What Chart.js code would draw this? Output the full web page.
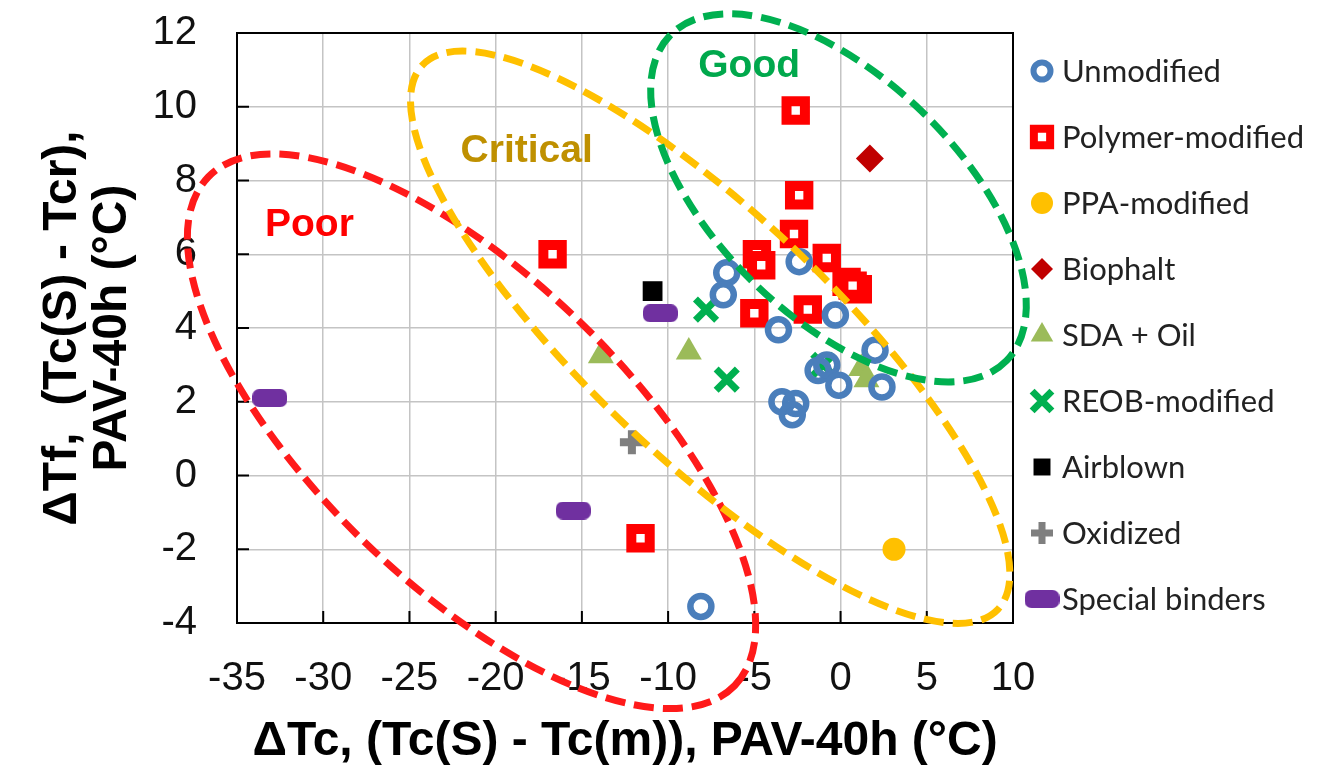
<!DOCTYPE html>
<html>
<head>
<meta charset="utf-8">
<script src="https://cdn.jsdelivr.net/npm/chart.js@4.4.1/dist/chart.umd.min.js"></script>
<style>
  html, body { margin: 0; padding: 0; background: #fff; }
</style>
</head>
<body>
<canvas id="binderChart" width="1317" height="783"></canvas>
<script>
// axis ranges
const xMin = -35, xMax = 10, xStep = 5;
const yMin = -4, yMax = 12, yStep = 2;

// series: [ΔTc, ΔTf]
const seriesNames = ['Unmodified', 'Polymer-modified', 'PPA-modified', 'Biophalt', 'SDA + Oil',
    'REOB-modified', 'Airblown', 'Oxidized', 'Special binders'];
const unmodified = [[-6.6, 5.5], [-6.8, 4.9], [-2.4, 5.8], [-3.6, 3.95], [-0.3, 4.35], [2.0, 3.4],
    [-1.3, 2.85], [-0.8, 3.0], [-0.1, 2.45], [2.4, 2.4], [-3.4, 2.0], [-2.6, 1.95], [-2.8, 1.65], [-8.1, -3.55]];
const polymerModified = [[-2.6, 9.9], [-2.4, 7.6], [-2.7, 6.55], [-4.85, 6.0], [-4.6, 5.7], [-0.8, 5.9],
    [0.35, 5.25], [1.0, 5.05], [0.7, 5.15], [-5.0, 4.4], [-1.9, 4.5], [-16.7, 6.0], [-11.6, -1.7]];
const ppaModified = [[3.1, -2.0]];
const biophalt = [[1.7, 8.6]];
const sdaOil = [[-13.9, 3.25], [-8.8, 3.35], [1.2, 2.9], [1.5, 2.6]];
const reobModified = [[-7.8, 4.5], [-6.6, 2.6], [-1.0, 3.0]];
const airblown = [[-10.9, 5.0]];
const oxidized = [[-12.1, 0.9]];
const specialBinders = [[-33.1, 2.1], [-15.5, -0.95], [-10.45, 4.4]];

// rating zones (centre in data units)
const zoneNames = ['Poor', 'Critical', 'Good'];
const zoneCentreX = [-21.4, -7.56, -0.12];
const zoneCentreY = [1.2, 3.75, 7.53];
const zoneLabelX = [-30.8, -18.2, -5.3];
const zoneLabelY = [6.8, 8.8, 11.1];

// zone geometry / colours (px)
const zoneStyle = [
    {a: 366, b: 154, angle: 44, color: '#ff1a1a', text: '#ff0000'},
    {a: 396, b: 122, angle: 43.4, color: '#ffc000', text: '#bf9000'},
    {a: 234, b: 120, angle: 44, color: '#00b050', text: '#00a84c'}
];

function pill(w, h, color) {
    const c = document.createElement('canvas');
    c.width = w; c.height = h;
    const g = c.getContext('2d');
    g.fillStyle = color;
    g.beginPath();
    g.roundRect(0, 0, w, h, h / 2.6);
    g.fill();
    return c;
}

function toPoints(arr) {
    return arr.map(p => ({x: p[0], y: p[1]}));
}

const specialPill = pill(35, 18, '#7030a0');

const styles = [
    {style: 'circle', r: 10.5, bw: 6.5, border: '#4a7ebb', bg: 'rgba(0,0,0,0)', lr: 8.5, lbw: 6},
    {style: 'rect', r: 13, bw: 10, border: '#ff0000', bg: '#ffffff', lr: 11.5, lbw: 8},
    {style: 'circle', r: 11.5, bw: 0, border: '#ffc000', bg: '#ffc000', lr: 11, lbw: 0},
    {style: 'rectRot', r: 14, bw: 0, border: '#c00000', bg: '#c00000', lr: 11, lbw: 0},
    {style: 'triangle', r: 15, bw: 0, border: '#9bbb59', bg: '#9bbb59', lr: 13, lbw: 0},
    {style: 'crossRot', r: 15, bw: 7, border: '#00b050', bg: '#00b050', lr: 14, lbw: 7},
    {style: 'rect', r: 14, bw: 0, border: '#000000', bg: '#000000', lr: 12, lbw: 0},
    {style: 'cross', r: 12, bw: 8, border: '#7f7f7f', bg: '#7f7f7f', lr: 11, lbw: 7},
    {style: specialPill, r: 12, bw: 0, border: '#7030a0', bg: '#7030a0', lr: 12, lbw: 0}
];

const seriesData = [unmodified, polymerModified, ppaModified, biophalt, sdaOil,
    reobModified, airblown, oxidized, specialBinders];

const datasets = seriesData.map((d, i) => ({
    label: seriesNames[i],
    data: toPoints(d),
    pointStyle: styles[i].style,
    pointRadius: styles[i].r,
    pointHoverRadius: styles[i].r,
    pointBorderWidth: styles[i].bw,
    pointBorderColor: styles[i].border,
    pointBackgroundColor: styles[i].bg,
    clip: false
}));

const framePlugin = {
    id: 'frame',
    beforeDatasetsDraw(chart) {
        const {ctx, chartArea: a, scales: {x, y}} = chart;
        ctx.save();
        ctx.strokeStyle = '#000';
        ctx.lineWidth = 2;
        ctx.strokeRect(a.left, a.top, a.right - a.left, a.bottom - a.top);
        ctx.beginPath();
        y.ticks.forEach(t => {
            const py = y.getPixelForValue(t.value);
            ctx.moveTo(a.left, py);
            ctx.lineTo(a.left + 12, py);
        });
        x.ticks.forEach(t => {
            const px = x.getPixelForValue(t.value);
            ctx.moveTo(px, a.bottom);
            ctx.lineTo(px, a.bottom - 12);
        });
        ctx.stroke();
        ctx.restore();
    }
};

const zonePlugin = {
    id: 'zones',
    afterDatasetsDraw(chart) {
        const {ctx, scales: {x, y}} = chart;
        ctx.save();
        ctx.lineWidth = 7;
        ctx.setLineDash([20, 9]);
        zoneNames.forEach((name, i) => {
            const z = zoneStyle[i];
            ctx.beginPath();
            ctx.ellipse(x.getPixelForValue(zoneCentreX[i]), y.getPixelForValue(zoneCentreY[i]),
                z.a, z.b, z.angle * Math.PI / 180, 0, Math.PI * 2);
            ctx.strokeStyle = z.color;
            ctx.stroke();
        });
        ctx.setLineDash([]);
        ctx.font = 'bold 39px "Liberation Sans", Arial, sans-serif';
        ctx.textAlign = 'center';
        ctx.textBaseline = 'middle';
        zoneNames.forEach((name, i) => {
            ctx.fillStyle = zoneStyle[i].text;
            ctx.fillText(name, x.getPixelForValue(zoneLabelX[i]), y.getPixelForValue(zoneLabelY[i]));
        });
        ctx.restore();
    }
};

const legendPlugin = {
    id: 'sideLegend',
    afterDraw(chart) {
        const {ctx} = chart;
        const left = 1042, textX = 1062, top = 71, step = 66;
        ctx.save();
        chart.data.datasets.forEach((ds, i) => {
            const s = styles[i];
            const cy = top + i * step;
            ctx.fillStyle = s.bg;
            ctx.strokeStyle = s.border;
            ctx.lineWidth = s.lbw;
            Chart.helpers.drawPoint(ctx, {pointStyle: s.style, rotation: 0, radius: s.lr, borderWidth: s.lbw}, left, cy);
            ctx.fillStyle = '#222';
            ctx.font = '31px Lato, "Open Sans", sans-serif';
            ctx.textAlign = 'left';
            ctx.textBaseline = 'middle';
            ctx.fillText(ds.label, textX, cy + 1);
        });
        ctx.restore();
    }
};

const tickFont = {family: '"Liberation Sans", Arial, sans-serif', size: 40};
const titleFont = {family: '"Liberation Sans", Arial, sans-serif', size: 48, weight: 'bold'};

new Chart(document.getElementById('binderChart'), {
    type: 'scatter',
    data: {datasets: datasets},
    options: {
        responsive: false,
        animation: false,
        layout: {padding: {left: 0, top: 33, right: 304, bottom: 0}},
        plugins: {legend: {display: false}, tooltip: {enabled: false}},
        scales: {
            x: {
                min: xMin, max: xMax,
                afterFit(scale) {
                    scale.height = 160;
                    scale.paddingLeft = 0;
                    scale.paddingRight = 0;
                },
                ticks: {stepSize: xStep, font: tickFont, color: '#111', padding: 32, maxRotation: 0},
                grid: {color: '#c4c4c4', lineWidth: 1.5, drawTicks: false},
                border: {color: '#000', width: 2},
                title: {display: true, text: 'ΔTc, (Tc(S) - Tc(m)), PAV-40h (°C)', font: titleFont,
                    color: '#000', padding: {bottom: 12, top: 0}}
            },
            y: {
                min: yMin, max: yMax,
                afterFit(scale) {
                    scale.width = 237;
                    scale.paddingTop = 0;
                    scale.paddingBottom = 0;
                },
                ticks: {stepSize: yStep, font: tickFont, color: '#111', padding: 40},
                grid: {color: '#c4c4c4', lineWidth: 1.5, drawTicks: false},
                border: {color: '#000', width: 2},
                title: {display: true, text: ['ΔTf,  (Tc(S) - Tcr),', 'PAV-40h (°C)'],
                    font: {family: '"Liberation Sans", Arial, sans-serif', size: 48, weight: 'bold', lineHeight: 1.04},
                    color: '#000', padding: {top: 38, bottom: 0}}
            }
        }
    },
    plugins: [framePlugin, zonePlugin, legendPlugin]
});
</script>
</body>
</html>
